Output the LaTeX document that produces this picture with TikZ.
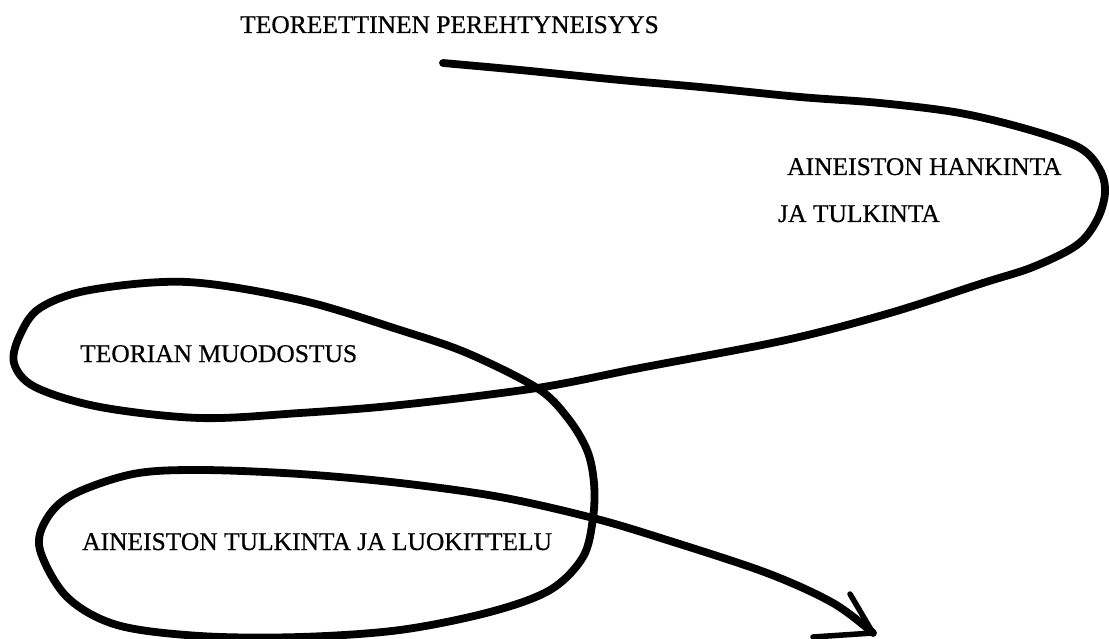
\documentclass[tikz,border=0pt]{standalone}
\usepackage{fontspec}
\setmainfont{Liberation Serif}[FakeBold=0.6]
\begin{document}
\begin{tikzpicture}[x=1pt,y=-1pt,
  lbl/.style={anchor=base west,inner sep=0pt,font=\fontsize{25.5}{30}\selectfont},
  stroke/.style={line width=7.8pt,line cap=round,line join=round},
  barb/.style={line width=5.5pt,line cap=round}]
\useasboundingbox (0,0) rectangle (1109,639);
\node[lbl] (title) at (240,33) {TEOREETTINEN PEREHTYNEISYYS};
\node[lbl] (hank) at (787,175) {AINEISTON HANKINTA};
\node[lbl] (tulk) at (778,222) {JA TULKINTA};
\node[lbl] (teor) at (80,362) {TEORIAN MUODOSTUS};
\node[lbl] (luok) at (82,550) {AINEISTON TULKINTA JA LUOKITTELU};
\coordinate (start) at (443,63);
\coordinate (tip) at (873,633);
\draw[stroke] plot[smooth,tension=0.55] coordinates {
 (443,63) (520,70) (620,80) (700,87) (800,97) (880,103) (960,113)
 (1030,130) (1080,148) (1100,170) (1105,193) (1097,220) (1077,245)
 (1033,267) (983,283) (890,313) (786,340) (640,368) (537,388)
 (400,405) (300,413) (200,418) (100,407) (35,387) (14,363) (20,335)
 (40,308) (90,290) (187,282) (300,300) (400,330) (467,353) (537,388)
 (567,417) (587,450) (594,483) (593,518) (583,557) (550,590) (490,612)
 (400,630) (300,637) (200,636) (117,625) (67,597) (40,550) (46,520)
 (72,495) (133,474) (200,470) (300,474) (400,483) (500,497) (593,518)
 (667,540) (767,573) (833,603) (873,633)};
\draw[barb] (tip) -- (850,594);
\draw[barb] (tip) -- (813,637);
\end{tikzpicture}
\end{document}
